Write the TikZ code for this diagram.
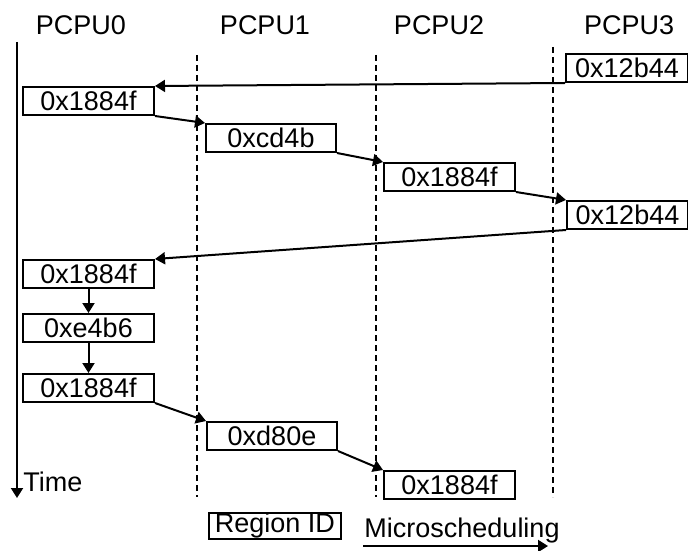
\documentclass[tikz,border=0pt]{standalone}
\usepackage{fontspec}
\setmainfont{Liberation Sans}
\usetikzlibrary{arrows.meta}

\begin{document}
\begin{tikzpicture}[x=0.5pt,y=-0.5pt,
  every node/.style={font=\fontsize{13.5}{16}\selectfont},
  regbox/.style={draw,line width=1pt,anchor=north west,inner sep=0pt,minimum height=14pt},
  flow/.style={-{Triangle[length=5pt,width=6pt]},line width=1pt},
  lane/.style={line width=1pt,dash pattern=on 3pt off 2pt}]
  \useasboundingbox[fill=white] (0,0) rectangle (688,550);
  \foreach \r/\x in {0/81,1/265,2/439,3/629}{
    \node (cpu\r) at (\x,25) {PCPU\r};
  }
  \foreach \x/\t in {197/55,376/55,553/47}{
    \draw[lane] (\x,\t) -- (\x,497);
  }
  \coordinate (ttop) at (17,42);
  \coordinate (tbot) at (17,498);
  \draw[flow] (ttop) -- (tbot);
  \node[anchor=west,inner sep=0pt] (tlabel) at (23,482) {Time};
  \foreach \r/\x/\y/\w/\v in {1/565/53/61/0x12b44,2/22/86/65.5/0x1884f,
      3/205/123/65/0xcd4b,4/383/162/65.5/0x1884f,5/566/200/60.5/0x12b44,
      6/22/259/65.5/0x1884f,7/22/313/65.5/0xe4b6,8/22/373/65.5/0x1884f,
      9/206/421/65/0xd80e,10/383/470/65.5/0x1884f}{
    \node[regbox,minimum width=\w pt] (r\r) at (\x,\y) {\v};
  }
  \foreach \a/\b in {1/2,5/6}{
    \draw[flow] (r\a.south west) -- (r\b.north east);
  }
  \foreach \a/\b in {2/3,3/4,4/5,8/9,9/10}{
    \draw[flow] (r\a.south east) -- (r\b.north west);
  }
  \foreach \a/\b in {6/7,7/8}{
    \draw[flow] (r\a.south) -- (r\b.north);
  }
  \node[regbox,minimum width=66pt,minimum height=13pt] (rid) at (208,512) {Region ID};
  \node[anchor=base] (msched) at (462,537) {Microscheduling};
  \coordinate (ms0) at (363,546);
  \coordinate (ms1) at (548,546);
  \draw[flow] (ms0) -- (ms1);
\end{tikzpicture}
\end{document}
